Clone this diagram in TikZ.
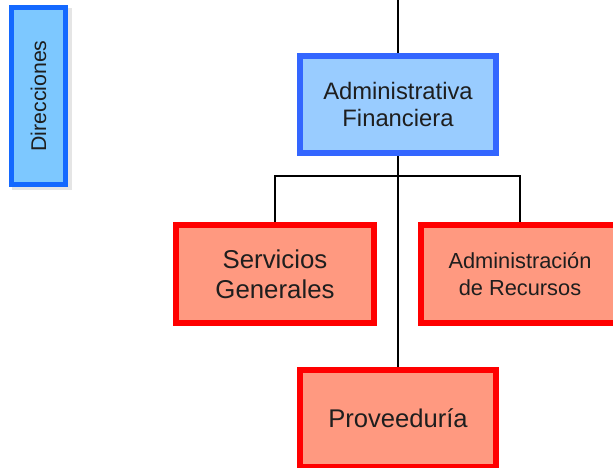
\documentclass[tikz,border=0pt]{standalone}
\usepackage{fontspec}
\setmainfont{Liberation Sans}
\usepackage{xcolor}
\usepackage{tikz}
\definecolor{dirblue}{RGB}{20,105,255}
\definecolor{dirfill}{RGB}{125,200,255}
\definecolor{finblue}{RGB}{51,102,255}
\definecolor{finfill}{RGB}{153,204,255}
\definecolor{unitred}{RGB}{255,0,0}
\definecolor{unitfill}{RGB}{255,153,128}
\definecolor{ink}{RGB}{30,30,30}

\begin{document}
\begin{tikzpicture}[x=1pt,y=-1pt,
    dirbox/.style={draw=dirblue,fill=dirfill,line width=5pt,minimum width=54pt,minimum height=177pt,inner sep=0pt},
    finbox/.style={draw=finblue,fill=finfill,line width=6pt,minimum width=196pt,minimum height=97pt,align=center,text=ink,font=\fontsize{23.8}{27}\selectfont},
    unitbox/.style={draw=unitred,fill=unitfill,line width=6pt,minimum width=198pt,minimum height=98pt,align=center,text=ink},
    link/.style={draw=black,line width=1.1pt}]
                \clip (0,0) rectangle (613,468);
                \fill[white] (0,0) rectangle (613,468);
                \fill[black!10] (12,8) rectangle (72,190);
                \node[dirbox] (dir) at (38.5,96) {\rotatebox{90}{\color{ink}\fontsize{21.3}{24}\selectfont Direcciones}};
                \node[finbox] (fin) at (398,104.5) {Administrativa\\Financiera};
                \node[unitbox,font=\fontsize{25.8}{30}\selectfont] (serv) at (275,274) {Servicios\\Generales};
                \node[unitbox,font=\fontsize{21.8}{27}\selectfont] (rec) at (520,274) {Administración\\de Recursos};
                \node[unitbox,minimum width=196pt,minimum height=97pt,font=\fontsize{25.6}{30}\selectfont] (prov) at (398,418.5) {Proveeduría};
                \coordinate (top) at (398,0);
                \coordinate (bar) at (398,176);
                \draw[link] (top) -- (fin.north);
                \draw[link] (fin.south) -- (prov.north);
                \draw[link] (serv.north) |- (bar) -| (rec.north);
            \end{tikzpicture}
\end{document}
